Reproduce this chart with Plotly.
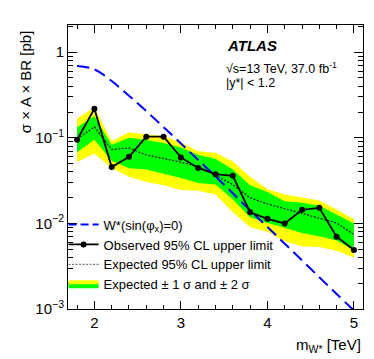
import plotly.graph_objects as go

# W* limits, sigma x A x BR [pb] vs mass [TeV]
mass = [1.8, 2.0, 2.2, 2.4, 2.6, 2.8, 3.0, 3.2, 3.4, 3.6, 3.8, 4.0, 4.2, 4.4, 4.6, 4.8, 5.0]
observed = [0.095, 0.218, 0.0455, 0.060, 0.103, 0.103, 0.059, 0.0445, 0.0376, 0.036,
            0.0135, 0.0113, 0.0100, 0.0144, 0.0152, 0.0070, 0.0049]
expected = [0.097, 0.134, 0.073, 0.076, 0.063, 0.057, 0.052, 0.046, 0.0366, 0.0284,
            0.0199, 0.0169, 0.0149, 0.0129, 0.0116, 0.0101, 0.0074]
up1 = [0.133, 0.179, 0.083, 0.100, 0.094, 0.087, 0.077, 0.063, 0.057, 0.0425,
       0.028, 0.0232, 0.0182, 0.0174, 0.0161, 0.0127, 0.0100]
dn1 = [0.068, 0.095, 0.054, 0.044, 0.0425, 0.038, 0.034, 0.0297, 0.0284, 0.019,
       0.0118, 0.0101, 0.0089, 0.0077, 0.0071, 0.0063, 0.0049]
up2 = [0.168, 0.228, 0.091, 0.116, 0.109, 0.104, 0.089, 0.0697, 0.0667, 0.053,
       0.0350, 0.0252, 0.0217, 0.0199, 0.0185, 0.0145, 0.0112]
dn2 = [0.052, 0.065, 0.0445, 0.035, 0.0305, 0.028, 0.0245, 0.024, 0.0217, 0.0135,
       0.0090, 0.0080, 0.0062, 0.0054, 0.0053, 0.0048, 0.0040]
theory = [0.69, 0.63, 0.46, 0.31, 0.205, 0.133, 0.086, 0.055, 0.0355, 0.0225,
          0.0142, 0.0091, 0.0058, 0.0037, 0.00235, 0.0015, 0.00096]

YELLOW = "#ffff00"
GREEN = "#00ff00"
BLUE = "#0000ff"
FONT = "Liberation Sans, Arial, sans-serif"

fig = go.Figure()

# +-2 sigma and +-1 sigma bands
fig.add_trace(go.Scatter(x=mass + mass[::-1], y=up2 + dn2[::-1], fill="toself",
                         fillcolor=YELLOW, line=dict(width=0), mode="lines",
                         showlegend=False, hoverinfo="skip"))
fig.add_trace(go.Scatter(x=mass + mass[::-1], y=up1 + dn1[::-1], fill="toself",
                         fillcolor=GREEN, line=dict(width=0), mode="lines",
                         showlegend=False, hoverinfo="skip"))

fig.add_trace(go.Scatter(x=mass, y=expected, mode="lines",
                         line=dict(color="#222222", width=1.3, dash="2px,1.5px"),
                         showlegend=False))
fig.add_trace(go.Scatter(x=mass, y=theory, mode="lines", line_shape="spline",
                         line=dict(color=BLUE, width=2, dash="12px,6px"),
                         showlegend=False))
fig.add_trace(go.Scatter(x=mass, y=observed, mode="lines+markers",
                         line=dict(color="black", width=1.8),
                         marker=dict(color="black", size=6),
                         showlegend=False))

# legend-only entries
fig.add_trace(go.Scatter(x=[None], y=[None], mode="lines", name="W*(sin(φ<sub>x</sub>)=0)",
                         line=dict(color=BLUE, width=2, dash="8px,4px")))
fig.add_trace(go.Scatter(x=[None], y=[None], mode="lines+markers",
                         name="Observed 95% CL upper limit",
                         line=dict(color="black", width=1.8),
                         marker=dict(color="black", size=6)))
fig.add_trace(go.Scatter(x=[None], y=[None], mode="lines",
                         name="Expected 95% CL upper limit",
                         line=dict(color="#777777", width=1.2, dash="2px,1.5px")))
fig.add_trace(go.Scatter(x=[None], y=[None], fill="toself", mode="lines",
                         name="Expected ± 1 σ and ± 2 σ",
                         fillcolor=GREEN, line=dict(color=YELLOW, width=4)))

axis_common = dict(showline=True, linecolor="black", linewidth=1, mirror="allticks",
                   ticks="inside", tickcolor="black", showgrid=False, zeroline=False)

fig.update_xaxes(range=[1.695, 5.105], tickvals=[2, 3, 4, 5], ticklen=8, tickwidth=1,
                 tickfont=dict(size=15, color="black", family=FONT),
                 minor=dict(ticks="inside", dtick=0.2, tick0=0, ticklen=4,
                            tickcolor="black"),
                 **axis_common)

minor_y = [m * d for d in (0.001, 0.01, 0.1, 1) for m in range(2, 10) if m * d < 2.1]
fig.update_yaxes(type="log", range=[-3, 0.318],
                 tickvals=[0.001, 0.01, 0.1, 1],
                 ticktext=["10<sup>−3</sup>", "10<sup>−2</sup>", "10<sup>−1</sup>", "1"],
                 ticklen=9, tickwidth=1,
                 tickfont=dict(size=15, color="black", family=FONT),
                 minor=dict(ticks="inside", tickmode="array", tickvals=minor_y,
                            ticklen=5, tickcolor="black"),
                 **axis_common)

fig.add_annotation(xref="paper", yref="paper", x=0.532, y=0.927, xanchor="left",
                   yanchor="middle", showarrow=False,
                   text="<b><i>ATLAS</i></b>", font=dict(size=15, family=FONT, color="black"))
fig.add_annotation(xref="paper", yref="paper", x=0.528, y=0.849, xanchor="left",
                   yanchor="middle", showarrow=False,
                   text="√s=13 TeV, 37.0 fb<sup>-1</sup>",
                   font=dict(size=12.5, family=FONT, color="black"))
fig.add_annotation(xref="paper", yref="paper", x=0.528, y=0.796, xanchor="left",
                   yanchor="middle", showarrow=False,
                   text="|y*| < 1.2", font=dict(size=12.5, family=FONT, color="black"))

# axis titles
fig.add_annotation(xref="paper", yref="paper", x=1.0, y=-0.127, xanchor="right",
                   yanchor="middle", showarrow=False,
                   text="m<sub>W*</sub> [TeV]", font=dict(size=15, family=FONT, color="black"))
fig.add_annotation(xref="paper", yref="paper", x=-0.146, y=0.99, xanchor="center",
                   yanchor="top", showarrow=False, textangle=-90,
                   text="σ × A × BR [pb]", font=dict(size=15, family=FONT, color="black"))

fig.update_layout(
    width=374, height=359,
    margin=dict(l=60, r=19, t=17, b=58),
    paper_bgcolor="white", plot_bgcolor="white",
    font=dict(family=FONT, color="black"),
    showlegend=True,
    legend=dict(x=-0.015, y=0.35, xanchor="left", yanchor="top",
                bgcolor="rgba(0,0,0,0)", font=dict(size=13, family=FONT, color="black"),
                traceorder="normal", tracegroupgap=0, itemwidth=30),
)

fig.write_html("out.html")
